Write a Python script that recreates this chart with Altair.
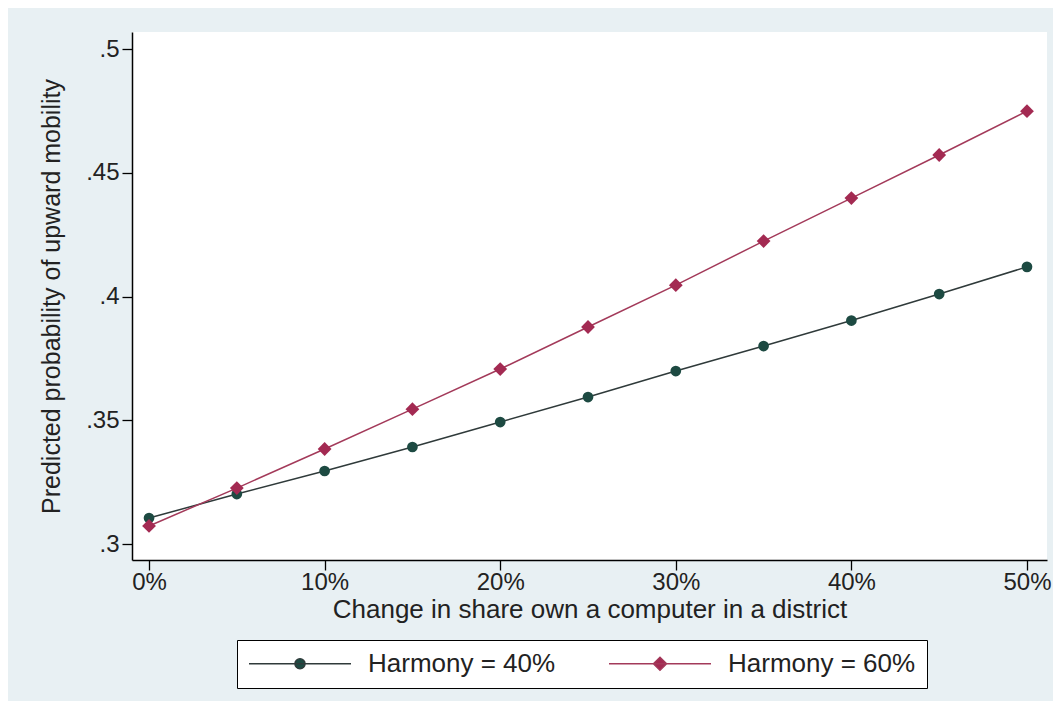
import altair as alt
import pandas as pd

# ---- data ----
share = [0.00, 0.05, 0.10, 0.15, 0.20, 0.25, 0.30, 0.35, 0.40, 0.45, 0.50]
harmony40 = [0.3105, 0.3202, 0.3295, 0.3392, 0.3493, 0.3594, 0.3699, 0.3800, 0.3903, 0.4010, 0.4120]
harmony60 = [0.3073, 0.3226, 0.3384, 0.3545, 0.3707, 0.3877, 0.4046, 0.4224, 0.4398, 0.4572, 0.4749]
series_names = ["Harmony = 40%", "Harmony = 60%"]
x_ticks = [0.0, 0.1, 0.2, 0.3, 0.4, 0.5]
y_ticks = [0.30, 0.35, 0.40, 0.45, 0.50]

line_colors = ["#2f3a3a", "#a33a5a"]
marker_colors = ["#1d4a42", "#a32a52"]
legend_paths = [
    "M-1,0H1M-0.1,0A0.1,0.1,0,1,0,0.1,0A0.1,0.1,0,1,0,-0.1,0Z",
    "M-1,0H1M0,-0.13L0.13,0L0,0.13L-0.13,0Z",
]

rows = []
for s, vals in zip(series_names, [harmony40, harmony60]):
    for x, v in zip(share, vals):
        rows.append({"share": x, "prob": v, "series": s})
df = pd.DataFrame(rows)

FONT = "Liberation Sans"

x_enc = alt.X(
    "share:Q",
    scale=alt.Scale(domain=[-0.0097, 0.5114], nice=False, zero=False),
    axis=alt.Axis(
        values=x_ticks, format=".0%", title="Change in share own a computer in a district",
        grid=False, domainColor="black", domainWidth=1.5, tickColor="black", tickWidth=1.3,
        tickSize=10, labelFontSize=24, labelColor="#222222", labelFont=FONT, labelPadding=0,
        titleFontSize=26, titleFont=FONT, titleFontWeight="normal", titleColor="#222222",
        titlePadding=2, labelFlush=False,
    ),
)
y_enc = alt.Y(
    "prob:Q",
    scale=alt.Scale(domain=[0.29354, 0.5069], nice=False, zero=False),
    axis=alt.Axis(
        values=y_ticks, labelExpr="substring(format(datum.value, '.2~f'), 1)",
        title="Predicted probability of upward mobility",
        grid=False, domainColor="black", domainWidth=1.5, tickColor="black", tickWidth=1.3,
        tickSize=10, labelFontSize=24, labelColor="#222222", labelFont=FONT, labelPadding=3,
        titleFontSize=25, titleFont=FONT, titleFontWeight="normal", titleColor="#222222",
        titlePadding=21, labelFlush=False,
    ),
)

base = alt.Chart(df)

lines = base.mark_line(strokeWidth=1.5).encode(
    x=x_enc, y=y_enc,
    color=alt.Color("series:N", scale=alt.Scale(domain=series_names, range=line_colors), legend=None),
)

markers = base.mark_point(filled=True, opacity=1).encode(
    x="share:Q", y="prob:Q",
    shape=alt.Shape("series:N", scale=alt.Scale(domain=series_names, range=["circle", "diamond"]), legend=None),
    fill=alt.Fill("series:N", scale=alt.Scale(domain=series_names, range=marker_colors), legend=None),
    size=alt.Size("series:N", scale=alt.Scale(domain=series_names, range=[115, 190]), legend=None),
)

legend_layer = base.mark_point(filled=True, opacity=0).encode(
    x="share:Q", y="prob:Q",
    shape=alt.Shape("series:N", scale=alt.Scale(domain=series_names, range=legend_paths),
                    legend=alt.Legend(title=None)),
    stroke=alt.Stroke("series:N", scale=alt.Scale(domain=series_names, range=line_colors),
                      legend=alt.Legend(title=None)),
    fill=alt.Fill("series:N", scale=alt.Scale(domain=series_names, range=marker_colors),
                  legend=alt.Legend(title=None)),
)

chart = (
    alt.layer(lines, markers, legend_layer)
    .resolve_scale(shape="independent", fill="independent", stroke="independent", size="independent")
    .properties(
        width=915, height=528,
        autosize=alt.AutoSizeParams(type="none"),
        padding={"left": 124, "top": 24, "right": 6, "bottom": 141},
        background="#e8f0f3",
    )
    .configure_view(stroke=None, fill="white")
    .configure_legend(
        orient="none", legendX=105, legendY=608, direction="horizontal",
        strokeColor="black", fillColor="white", padding=11, cornerRadius=0,
        symbolSize=10404, symbolStrokeWidth=1.4, symbolOpacity=1,
        labelFontSize=26, labelFont=FONT, labelColor="#222222", labelLimit=400,
        labelOffset=16, columnPadding=52, clipHeight=25,
    )
)

chart.save("out.html", embed_options={"renderer": "svg", "actions": False})
